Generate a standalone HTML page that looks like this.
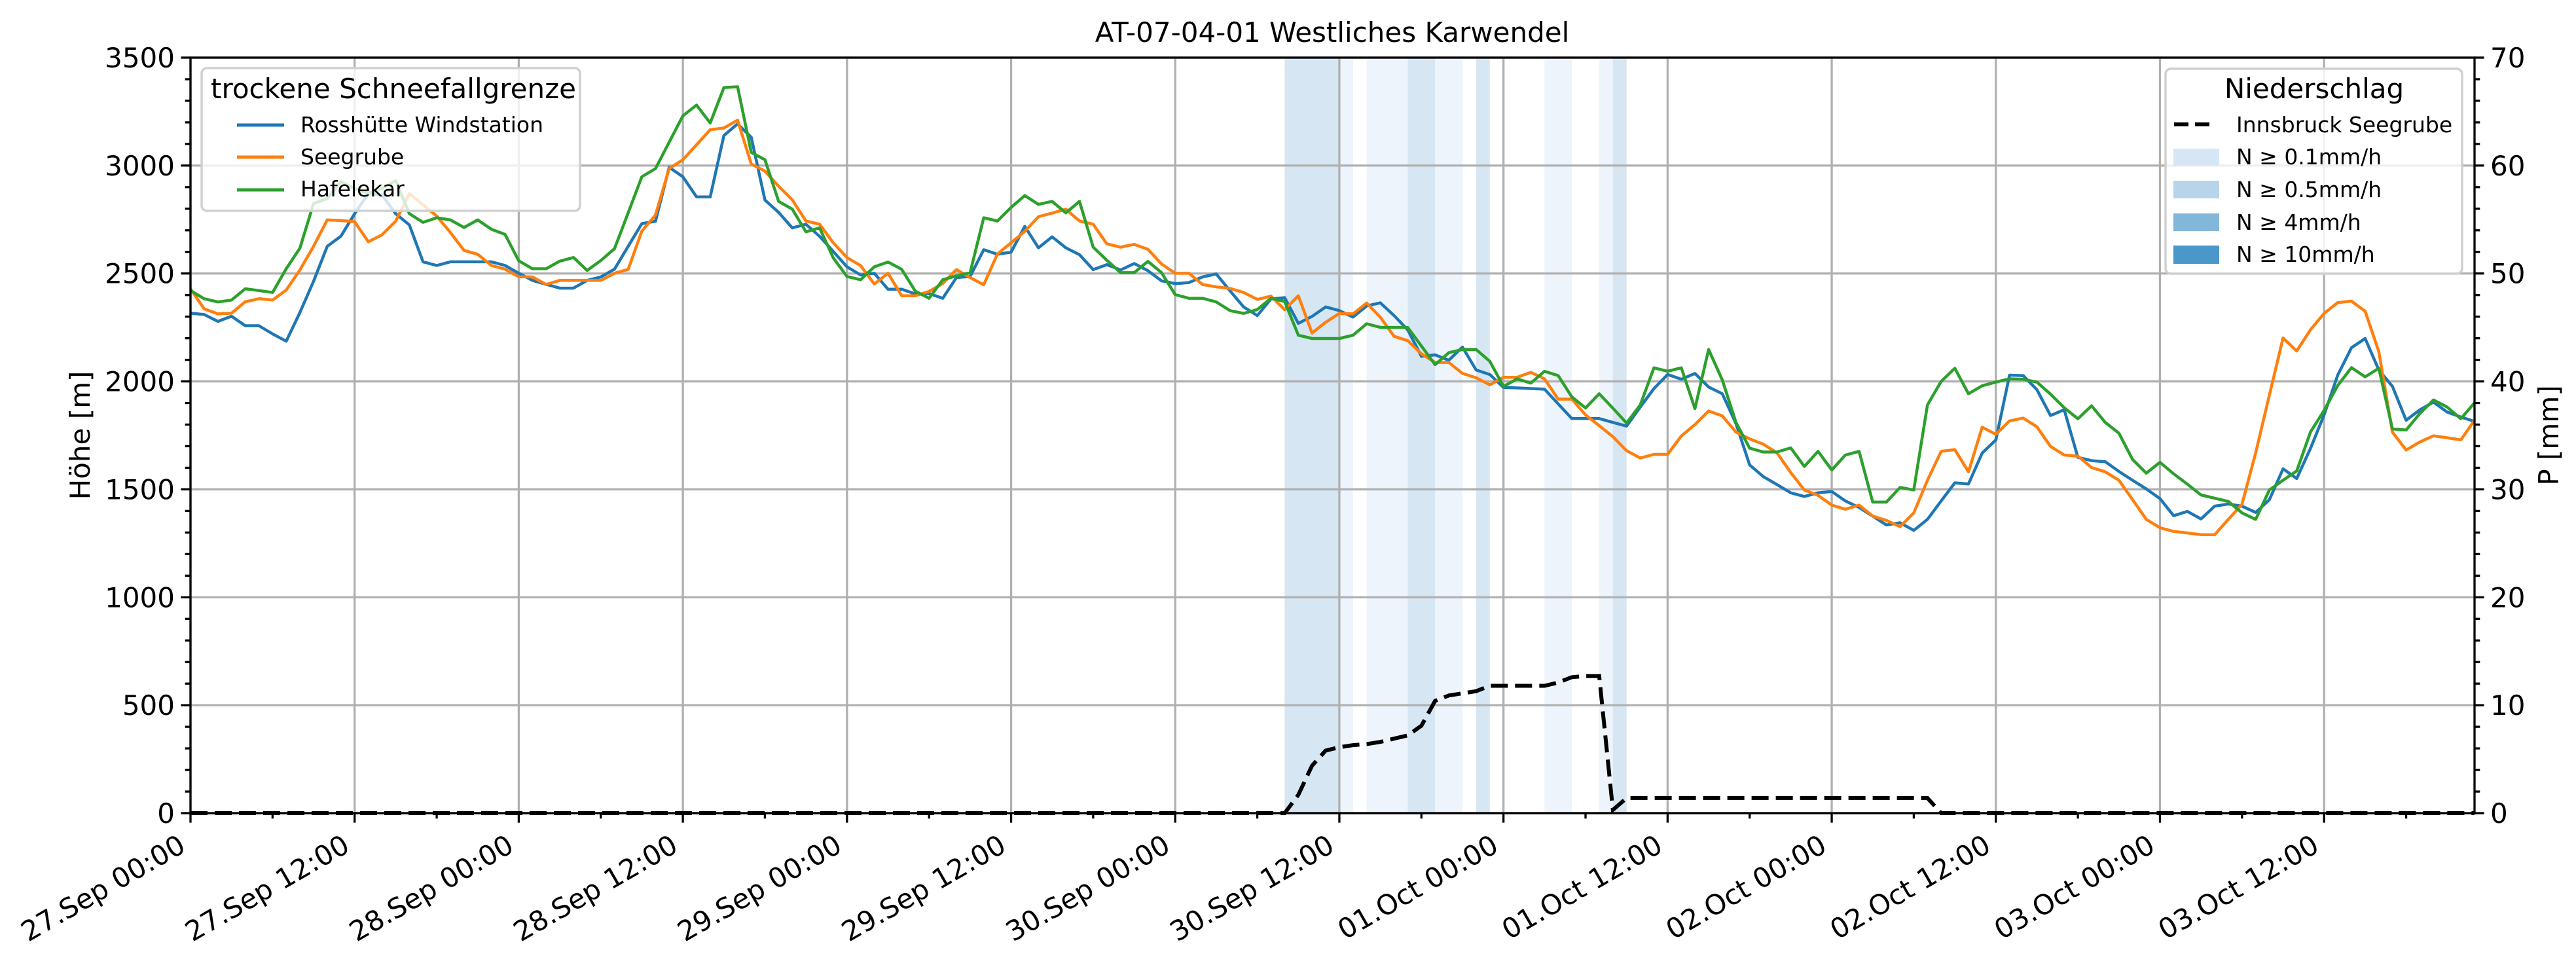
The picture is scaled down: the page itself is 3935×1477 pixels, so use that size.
<!DOCTYPE html>
<html><head><meta charset="utf-8"><style>
html,body{margin:0;padding:0;background:#fff;}
svg{display:block;font-family:"DejaVu Sans","Liberation Sans",sans-serif;}
</style></head><body>
<svg id="chart" xmlns="http://www.w3.org/2000/svg" width="3935" height="1477" viewBox="0 0 3935 1477">
<rect width="3935" height="1477" fill="#fff"/>
<g id="shade"></g>
<g id="grid"></g>
<g id="series"></g>
<g id="axes"></g>
<text x="2035" y="64" font-size="42" text-anchor="middle">AT-07-04-01 Westliches Karwendel</text>
<text transform="translate(137,665) rotate(-90)" font-size="42" text-anchor="middle">Höhe [m]</text>
<text transform="translate(3908,665) rotate(-90)" font-size="42" text-anchor="middle">P [mm]</text>
<g>
<rect x="308" y="104" width="578" height="218" rx="8" fill="#fff" fill-opacity="0.8" stroke="#d0d0d0" stroke-width="3.5"/>
<text x="322" y="150" font-size="42">trockene Schneefallgrenze</text>
<g><line x1="362" y1="191" x2="434" y2="191" stroke="#1f77b4" stroke-width="5"/><text x="459" y="202" font-size="33">Rosshütte Windstation</text></g>
<g><line x1="362" y1="240" x2="434" y2="240" stroke="#ff7f0e" stroke-width="5"/><text x="459" y="251" font-size="33">Seegrube</text></g>
<g><line x1="362" y1="290" x2="434" y2="290" stroke="#2ca02c" stroke-width="5"/><text x="459" y="300" font-size="33">Hafelekar</text></g>
</g>
<g>
<rect x="3308" y="105" width="453" height="313" rx="8" fill="#fff" fill-opacity="0.8" stroke="#d0d0d0" stroke-width="3.5"/>
<text x="3535" y="150" font-size="42" text-anchor="middle">Niederschlag</text>
<g><line x1="3321" y1="190" x2="3378" y2="190" stroke="#000" stroke-width="6" stroke-dasharray="22 10"/><text x="3416" y="202" font-size="33">Innsbruck Seegrube</text></g>
<g><rect x="3320" y="227" width="70" height="26" fill="#d6e6f4"/><text x="3416" y="251" font-size="33">N ≥ 0.1mm/h</text></g>
<g><rect x="3320" y="276" width="70" height="27" fill="#b7d4ea"/><text x="3416" y="301" font-size="33">N ≥ 0.5mm/h</text></g>
<g><rect x="3320" y="326" width="70" height="27" fill="#82b7d9"/><text x="3416" y="351" font-size="33">N ≥ 4mm/h</text></g>
<g><rect x="3320" y="375" width="70" height="28" fill="#4a98c9"/><text x="3416" y="400" font-size="33">N ≥ 10mm/h</text></g>
</g>
</svg>
<script>
const rossh = [2316,2310,2278,2302,2258,2258,2220,2186,2319,2464,2626,2673,2777,2870,2864,2777,2725,2554,2537,2554,2554,2554,2554,2537,2501,2468,2450,2432,2432,2468,2484,2520,2626,2731,2742,2992,2948,2855,2855,3139,3193,3131,2840,
2783,2711,2728,2672,2602,2531,2493,2501,2427,2427,2405,2407,2385,2481,2486,2610,2589,2599,2718,2619,2670,2619,2587,2518,2541,2516,2546,2513,2466,2453,2458,2484,2498,2420,2345,2305,2382,2388,2269,2301,2345,2328,
2298,2350,2364,2305,2239,2116,2123,2098,2159,2053,2032,1972,1970,1967,1964,1896,1828,1828,1828,1810,1793,1881,1967,2032,2010,2037,1974,1943,1805,1613,1559,1522,1484,1467,1484,1490,1446,1416,1376,1335,1345,1310,
1361,1446,1530,1525,1668,1729,2029,2027,1962,1842,1869,1648,1633,1628,1583,1542,1502,1457,1378,1398,1363,1422,1432,1422,1393,1452,1595,1550,1689,1845,2030,2156,2199,2053,1977,1820,1868,1904,1858,1835,1815];
const seegrube = [2429,2336,2313,2316,2369,2383,2377,2423,2516,2626,2748,2745,2740,2647,2679,2742,2870,2818,2766,2690,2607,2589,2537,2520,2485,2484,2449,2468,2468,2468,2468,2501,2519,2696,2771,2986,3027,3096,3166,3174,3210,3007,2974,
2904,2841,2743,2728,2642,2574,2536,2451,2501,2397,2397,2417,2453,2518,2481,2448,2590,2642,2695,2763,2780,2798,2743,2728,2637,2622,2635,2612,2544,2501,2501,2449,2438,2431,2412,2380,2395,2332,2397,2224,2274,2315,
2313,2363,2297,2209,2189,2128,2088,2088,2037,2017,1984,2019,2019,2042,2012,1918,1918,1845,1795,1744,1679,1645,1662,1662,1747,1800,1863,1840,1765,1734,1709,1669,1578,1497,1472,1427,1408,1427,1376,1356,1327,1391,
1542,1676,1684,1581,1788,1755,1817,1830,1790,1699,1659,1654,1601,1581,1542,1452,1361,1322,1305,1298,1290,1290,1361,1431,1669,1936,2201,2141,2239,2315,2365,2372,2325,2138,1765,1682,1719,1748,1739,1729,1820];
const hafelekar = [2421,2383,2368,2377,2429,2421,2412,2522,2617,2824,2847,2926,2893,2872,2893,2930,2777,2737,2758,2748,2713,2748,2705,2681,2559,2522,2522,2557,2574,2514,2560,2615,2781,2948,2986,3108,3230,3280,3197,3361,3365,3061,3027,
2834,2798,2693,2711,2572,2486,2471,2531,2553,2519,2418,2385,2471,2489,2504,2758,2743,2806,2861,2820,2834,2781,2834,2622,2561,2504,2504,2556,2504,2402,2385,2385,2368,2328,2315,2333,2385,2370,2214,2199,2199,2199,
2214,2267,2250,2250,2250,2164,2078,2133,2148,2148,2093,1977,2012,1992,2047,2027,1928,1877,1943,1876,1807,1891,2063,2047,2063,1874,2148,2007,1810,1691,1673,1673,1692,1606,1676,1590,1659,1676,1441,1441,1509,1497,
1891,2000,2061,1943,1980,1997,2012,2010,1997,1941,1878,1827,1887,1810,1760,1638,1575,1625,1572,1524,1474,1459,1444,1391,1361,1497,1542,1585,1765,1866,1981,2064,2021,2061,1780,1775,1851,1914,1881,1827,1901];
const precipHours = [0,80,81,82,83,84,85,86,87,88,89,90,91,92,93,94,95,99,100,101,102,103,104,105,127,128,167];
const precipValues = [0,0,1.7,4.4,5.8,6.1,6.3,6.4,6.6,6.9,7.2,8.1,10.4,10.9,11.1,11.3,11.8,11.8,12.1,12.6,12.7,12.7,0.3,1.4,1.4,0,0];
const shadeStart = [80,84,86,89,91,94,99,103,104];
const shadeEnd = [84,85,89,91,93,95,101,104,105];
const shadeLevel = [2,1,1,2,1,2,1,1,2];
const yTicks = [0,500,1000,1500,2000,2500,3000,3500];
const y2Ticks = [0,10,20,30,40,50,60,70];
const xTickLabels = ["27.Sep 00:00","27.Sep 12:00","28.Sep 00:00","28.Sep 12:00","29.Sep 00:00","29.Sep 12:00","30.Sep 00:00","30.Sep 12:00","01.Oct 00:00","01.Oct 12:00","02.Oct 00:00","02.Oct 12:00","03.Oct 00:00","03.Oct 12:00"];

const L=291,R=3780,T=88,B=1242,HMAX=167;
const sx=h=>L+(R-L)*h/HMAX;
const sy=v=>B-(B-T)*v/3500;
const sy2=v=>B-(B-T)*v/70;
const NS="http://www.w3.org/2000/svg";
function mk(tag,parent){const e=document.createElementNS(NS,tag);parent.appendChild(e);return e;}
const gS=document.getElementById('shade'),gG=document.getElementById('grid'),gSe=document.getElementById('series'),gA=document.getElementById('axes');
const shadeColors={1:'#edf4fb',2:'#d6e6f3'};
shadeStart.forEach((s,i)=>{
  const r=mk('rect',gS);
  
  
  r.setAttribute('x',sx(s));r.setAttribute('y',T);r.setAttribute('width',sx(shadeEnd[i])-sx(s));r.setAttribute('height',B-T);
  r.setAttribute('fill',shadeColors[shadeLevel[i]]);
});
yTicks.forEach(v=>{
  const l=mk('line',gG);
  
  
  l.setAttribute('x1',L);l.setAttribute('x2',R);l.setAttribute('y1',sy(v));l.setAttribute('y2',sy(v));
  l.setAttribute('stroke','#b0b0b0');l.setAttribute('stroke-width','3.3');
});
xTickLabels.forEach((t,i)=>{
  const x=sx(i*12);
  const l=mk('line',gG);
  
  
  l.setAttribute('x1',x);l.setAttribute('x2',x);l.setAttribute('y1',T);l.setAttribute('y2',B);
  l.setAttribute('stroke','#b0b0b0');l.setAttribute('stroke-width','3.3');
});
function line(data,color,name){
  const p=mk('polyline',gSe);
  
  
  p.setAttribute('points',data.map((v,i)=>sx(i).toFixed(1)+','+sy(v).toFixed(1)).join(' '));
  p.setAttribute('fill','none');p.setAttribute('stroke',color);p.setAttribute('stroke-width','4.5');p.setAttribute('stroke-linejoin','round');
}
line(rossh,'#1f77b4','line-rosshuette');
line(seegrube,'#ff7f0e','line-seegrube');
line(hafelekar,'#2ca02c','line-hafelekar');
const pp=mk('polyline',gSe);


pp.setAttribute('points',precipHours.map((h,i)=>sx(h).toFixed(1)+','+sy2(precipValues[i]).toFixed(1)).join(' '));
pp.setAttribute('fill','none');pp.setAttribute('stroke','#000');pp.setAttribute('stroke-width','6');pp.setAttribute('stroke-dasharray','26 11');
const fr=mk('rect',gA);


fr.setAttribute('x',L);fr.setAttribute('y',T);fr.setAttribute('width',R-L);fr.setAttribute('height',B-T);
fr.setAttribute('fill','none');fr.setAttribute('stroke','#000');fr.setAttribute('stroke-width','3.3');
function tick(x1,y1,x2,y2){const l=mk('line',gA);l.setAttribute('x1',x1);l.setAttribute('y1',y1);l.setAttribute('x2',x2);l.setAttribute('y2',y2);l.setAttribute('stroke','#000');l.setAttribute('stroke-width','3.3');}
for(let v=0;v<=3500;v+=100){const maj=v%500===0;tick(L,sy(v),L-(maj?14.6:8.3),sy(v));}
for(let v=0;v<=70;v+=2){const maj=v%10===0;tick(R,sy2(v),R+(maj?14.6:8.3),sy2(v));}
for(let h=0;h<=HMAX;h+=6){const maj=h%12===0;tick(sx(h),B,sx(h),B+(maj?14.6:8.3));}
yTicks.forEach(v=>{
  const t=mk('text',gA);
  
  
  t.setAttribute('x',L-24);t.setAttribute('y',sy(v)+15);t.setAttribute('text-anchor','end');t.setAttribute('font-size','42');
  t.textContent=v;
});
y2Ticks.forEach(v=>{
  const t=mk('text',gA);
  
  
  t.setAttribute('x',R+24);t.setAttribute('y',sy2(v)+15);t.setAttribute('font-size','42');
  t.textContent=v;
});
xTickLabels.forEach((s,i)=>{
  const x=sx(i*12)-5,y=1299;
  const t=mk('text',gA);
  
  
  t.setAttribute('transform','translate('+x+','+y+') rotate(-30)');
  t.setAttribute('text-anchor','end');t.setAttribute('font-size','42');
  t.textContent=s;
});
</script>
</body></html>
